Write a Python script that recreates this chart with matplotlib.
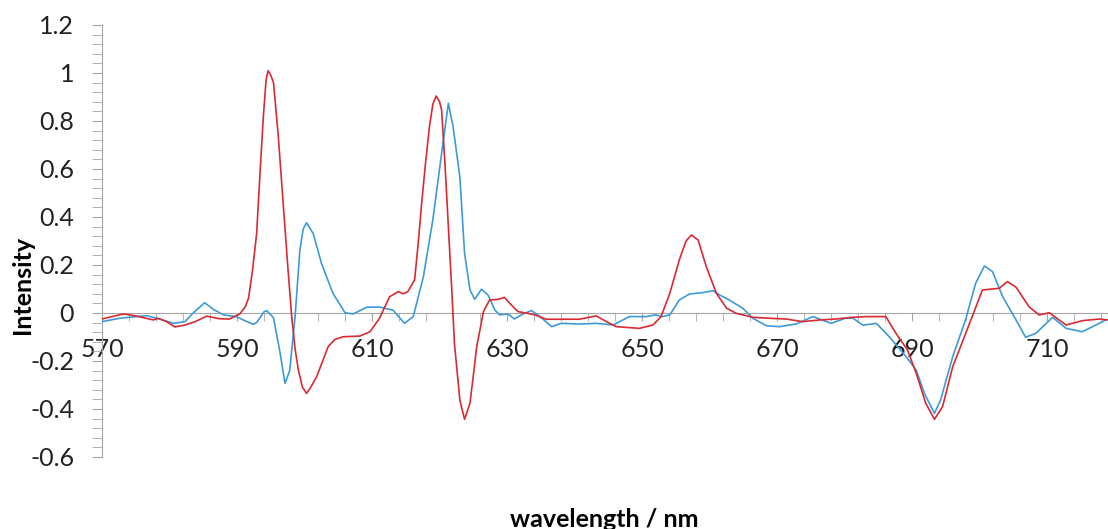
import numpy as np
import matplotlib
matplotlib.use('Agg')
import matplotlib.pyplot as plt
from matplotlib.ticker import FixedLocator, MultipleLocator, FuncFormatter

# values (wavelength in nm, intensity)
red_nm = [570.0, 571.5, 573.2, 575.0, 577.6, 578.3, 579.5, 580.8, 582.3, 583.8,
          585.5, 587.4, 588.9, 590.4, 591.2, 591.7, 592.3, 592.9, 593.4, 593.9,
          594.3, 594.6, 595.0, 595.4, 596.1, 596.8, 597.5, 598.1, 598.6, 599.1,
          599.7, 600.3, 600.9, 601.8, 603.5, 604.5, 605.7, 608.2, 609.7, 611.1,
          612.6, 613.9, 614.6, 615.3, 616.3, 616.8, 617.3, 617.9, 618.5, 619.0,
          619.5, 620.0, 620.3, 620.8, 621.3, 621.8, 622.2, 623.0, 623.7, 624.5,
          625.0, 625.5, 626.5, 627.4, 628.7, 629.6, 630.4, 631.6, 632.8, 634.1,
          635.8, 638.3, 640.7, 643.2, 644.7, 646.2, 649.6, 651.6, 652.8, 654.1,
          655.5, 656.5, 657.3, 658.3, 659.5, 661.0, 662.5, 663.9, 666.4, 668.9,
          671.3, 673.8, 676.3, 678.7, 681.2, 683.2, 686.1, 687.6, 689.3, 690.6,
          692.0, 693.3, 694.5, 696.0, 698.5, 700.4, 702.9, 704.1, 705.4, 707.3,
          708.8, 710.3, 712.8, 715.2, 717.7, 719.0]
red_val = [-0.025, -0.015, -0.004, -0.012, -0.029, -0.022, -0.035, -0.058, -0.050, -0.036,
           -0.013, -0.024, -0.025, -0.004, 0.025, 0.061, 0.18, 0.33, 0.58, 0.82,
           0.97, 1.01, 0.99, 0.96, 0.74, 0.47, 0.20, -0.015, -0.15, -0.24,
           -0.31, -0.335, -0.31, -0.265, -0.14, -0.11, -0.099, -0.096, -0.078, -0.022,
           0.068, 0.089, 0.080, 0.089, 0.138, 0.28, 0.443, 0.62, 0.776, 0.87,
           0.904, 0.88, 0.846, 0.62, 0.36, 0.10, -0.126, -0.363, -0.443, -0.376,
           -0.26, -0.14, 0.006, 0.054, 0.057, 0.065, 0.040, 0.006, 0.000, -0.008,
           -0.026, -0.026, -0.026, -0.012, -0.036, -0.057, -0.064, -0.050, -0.015, 0.082,
           0.221, 0.30, 0.325, 0.304, 0.193, 0.082, 0.020, -0.001, -0.018, -0.022,
           -0.025, -0.036, -0.029, -0.025, -0.018, -0.015, -0.015, -0.085, -0.154, -0.251,
           -0.376, -0.443, -0.390, -0.224, -0.043, 0.096, 0.103, 0.131, 0.107, 0.026,
           -0.008, 0.001, -0.050, -0.032, -0.025, -0.029]

blue_nm = [570.0, 572.6, 576.6, 578.5, 580.6, 582.3, 583.5, 585.2, 586.5, 588.0,
           589.9, 591.0, 592.4, 592.9, 594.0, 594.4, 595.4, 596.3, 597.1, 597.8,
           598.6, 599.3, 599.8, 600.3, 601.3, 602.5, 604.2, 606.0, 607.2, 609.2,
           611.1, 612.6, 613.1, 614.8, 616.1, 617.6, 619.0, 620.3, 621.3, 622.0,
           623.0, 623.7, 624.5, 625.2, 626.2, 627.2, 628.2, 628.9, 630.1, 631.1,
           632.3, 633.6, 634.8, 636.6, 638.0, 640.7, 643.2, 645.7, 648.1, 650.6,
           652.0, 653.0, 654.1, 655.5, 657.0, 659.0, 660.5, 661.5, 662.9, 664.9,
           666.4, 668.4, 670.3, 672.8, 675.3, 678.0, 680.2, 681.2, 682.7, 684.7,
           686.6, 689.1, 690.6, 691.8, 693.3, 694.2, 696.0, 697.9, 699.4, 700.7,
           701.9, 703.4, 705.1, 706.8, 708.3, 710.8, 712.8, 715.2, 718.7]
blue_val = [-0.036, -0.022, -0.011, -0.025, -0.043, -0.036, 0.000, 0.043, 0.015, -0.008,
            -0.015, -0.030, -0.047, -0.040, 0.005, 0.010, -0.020, -0.154, -0.293, -0.240,
            -0.015, 0.26, 0.35, 0.376, 0.33, 0.207, 0.082, 0.001, -0.004, 0.024,
            0.025, 0.015, 0.012, -0.043, -0.015, 0.151, 0.388, 0.665, 0.874, 0.776,
            0.568, 0.249, 0.096, 0.057, 0.099, 0.074, 0.012, -0.008, -0.004, -0.025,
            -0.005, 0.010, -0.013, -0.057, -0.043, -0.046, -0.043, -0.050, -0.015, -0.015,
            -0.008, -0.015, -0.008, 0.054, 0.079, 0.085, 0.093, 0.075, 0.054, 0.020,
            -0.022, -0.053, -0.057, -0.046, -0.015, -0.043, -0.021, -0.021, -0.051, -0.043,
            -0.099, -0.182, -0.238, -0.335, -0.418, -0.363, -0.182, -0.029, 0.124, 0.196,
            0.172, 0.068, -0.015, -0.101, -0.085, -0.018, -0.064, -0.078, -0.029]

x_ticks = [570, 590, 610, 630, 650, 670, 690, 710]
x_label = 'wavelength / nm'
y_label = 'Intensity'

plt.rcParams['font.family'] = ['Lato', 'DejaVu Sans']

W, H = 1108, 529
fig = plt.figure(figsize=(W / 100, H / 100), dpi=100)
ax = fig.add_axes([102 / W, 1 - 457 / H, 1 - 102 / W, (457 - 25) / H])

ax.plot(blue_nm, blue_val, color='#3c9ad9', lw=1.2, zorder=3)
ax.plot(red_nm, red_val, color='#d92a32', lw=1.2, zorder=3)

ax.set_xlim(570, 719)
ax.set_ylim(-0.6, 1.2)

axis_grey = '#a6a6a6'
for side in ['top', 'right']:
    ax.spines[side].set_visible(False)
ax.spines['bottom'].set_position(('data', 0))
ax.spines['bottom'].set_color(axis_grey)
ax.spines['left'].set_color(axis_grey)
ax.spines['bottom'].set_zorder(2)
ax.spines['left'].set_zorder(2)

ax.xaxis.set_major_locator(FixedLocator(x_ticks))
ax.xaxis.set_minor_locator(MultipleLocator(4, offset=2))
ax.yaxis.set_major_locator(MultipleLocator(0.2))
ax.yaxis.set_minor_locator(MultipleLocator(0.04))
ax.yaxis.set_major_formatter(FuncFormatter(lambda v, p: '%g' % round(v, 2)))
ax.xaxis.set_major_formatter(FuncFormatter(lambda v, p: '%d' % round(v)))

ax.tick_params(axis='x', which='both', direction='out', length=6, color=axis_grey)
ax.tick_params(axis='y', which='both', direction='out', length=7, color=axis_grey)
ax.tick_params(axis='x', which='major', labelsize=18, pad=12, labelcolor='#222222')
ax.tick_params(axis='y', which='major', labelsize=18, pad=13, labelcolor='#222222')

fig.text(22 / W, 1 - 285 / H, y_label, rotation=90, ha='center', va='center',
         fontsize=18, fontweight='bold')
fig.text(604 / W, 1 - 527 / H, x_label, ha='center', va='baseline',
         fontsize=18, fontweight='bold')

fig.savefig('out.png', dpi=100)
